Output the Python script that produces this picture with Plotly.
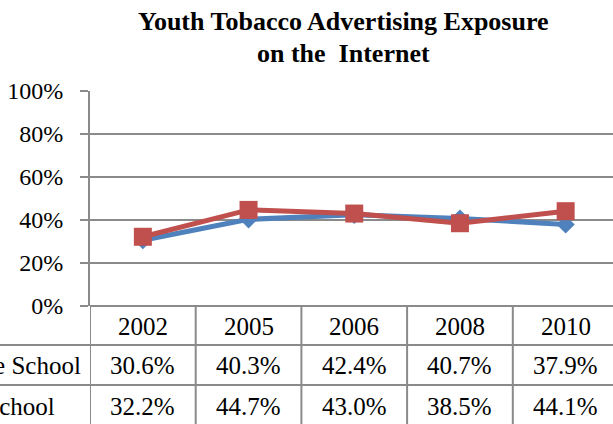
import plotly.graph_objects as go

years = ["2002", "2005", "2006", "2008", "2010"]
middle_school = [30.6, 40.3, 42.4, 40.7, 37.9]
high_school = [32.2, 44.7, 43.0, 38.5, 44.1]
series_names = ["Middle School", "High School"]
title_lines = ["Youth Tobacco Advertising Exposure", "on the  Internet"]

W, H = 613, 424
PL, PT, PB = 90, 91, 306  # plot area pixel bounds
PH = PB - PT
FONT = "Liberation Serif"
GRID = "#8a8a8a"
BLUE = "#4F81BD"
RED = "#C0504D"


def py(p):
    """pixel y -> paper y"""
    return (PB - p) / PH


def px(p):
    """pixel x -> paper x"""
    return (p - PL) / (W - PL)


fig = go.Figure()
fig.add_trace(go.Scatter(
    x=list(range(len(years))), y=[v / 100 for v in middle_school],
    mode="lines+markers", name=series_names[0],
    line=dict(color=BLUE, width=5),
    marker=dict(symbol="diamond", size=14, color=BLUE),
    cliponaxis=False,
))
fig.add_trace(go.Scatter(
    x=list(range(len(years))), y=[v / 100 for v in high_school],
    mode="lines+markers", name=series_names[1],
    line=dict(color=RED, width=5),
    marker=dict(symbol="square", size=18, color=RED),
    cliponaxis=False,
))

col_w = 105.7
span = (W - PL) / col_w

shapes = []
# table row bands (label rows), outlined
for y_top, y_bot in [(345, 385), (385, 425)]:
    shapes.append(dict(type="rect", xref="paper", yref="paper",
                       x0=px(-20), x1=1.05, y0=py(y_bot), y1=py(y_top),
                       line=dict(color=GRID, width=2), fillcolor="rgba(0,0,0,0)"))
# table vertical lines (category boundaries)
for i in range(len(years) + 1):
    shapes.append(dict(type="line", xref="x", yref="paper",
                       x0=i - 0.5, x1=i - 0.5, y0=0, y1=py(430),
                       line=dict(color=GRID, width=2)))

annotations = []
row_centers = [326, 365, 406]
tf = dict(family=FONT, size=25, color="black")
for i, yr in enumerate(years):
    for r, txt in enumerate([yr, f"{middle_school[i]:.1f}%", f"{high_school[i]:.1f}%"]):
        annotations.append(dict(x=i, y=py(row_centers[r]), xref="x", yref="paper",
                                xanchor="center", yanchor="middle",
                                text=txt, showarrow=False, font=tf))
# row labels (cut off at the left edge, as in the reference)
annotations.append(dict(x=px(83), y=py(row_centers[1]), xref="paper", yref="paper",
                        xanchor="right", yanchor="middle", text=series_names[0],
                        showarrow=False, font=tf))
annotations.append(dict(x=px(57), y=py(row_centers[2]), xref="paper", yref="paper",
                        xanchor="right", yanchor="middle", text=series_names[1],
                        showarrow=False, font=tf))
# title
title_font = dict(family=FONT, size=26, color="black")
for line_txt, yc in zip(title_lines, [22, 53]):
    annotations.append(dict(x=px(343), y=py(yc), xref="paper", yref="paper",
                            xanchor="center", yanchor="middle",
                            text="<b>" + line_txt + "</b>", showarrow=False,
                            font=title_font))

fig.update_layout(
    template="none",
    width=W, height=H,
    margin=dict(l=PL, r=0, t=PT, b=H - PB, pad=0, autoexpand=False),
    paper_bgcolor="white", plot_bgcolor="white",
    font=dict(family=FONT),
    showlegend=False,
    shapes=shapes, annotations=annotations,
    xaxis=dict(range=[-0.5, -0.5 + span], showgrid=False, zeroline=False,
               showticklabels=False, ticks="", showline=False, fixedrange=True,
               automargin=False),
    yaxis=dict(range=[0, 1], dtick=0.2, tickformat=".0%",
               showgrid=True, gridcolor=GRID, gridwidth=2,
               zeroline=True, zerolinecolor=GRID, zerolinewidth=2,
               showline=True, linecolor=GRID, linewidth=2,
               ticks="outside", ticklen=8, tickcolor=GRID, tickwidth=2,
               ticklabelstandoff=12, automargin=False,
               tickfont=dict(family=FONT, size=24, color="black")),
)

fig.write_html(
    "out.html",
    config={"displayModeBar": False},
    post_script="document.body.style.margin='0';document.body.style.padding='0';",
)
